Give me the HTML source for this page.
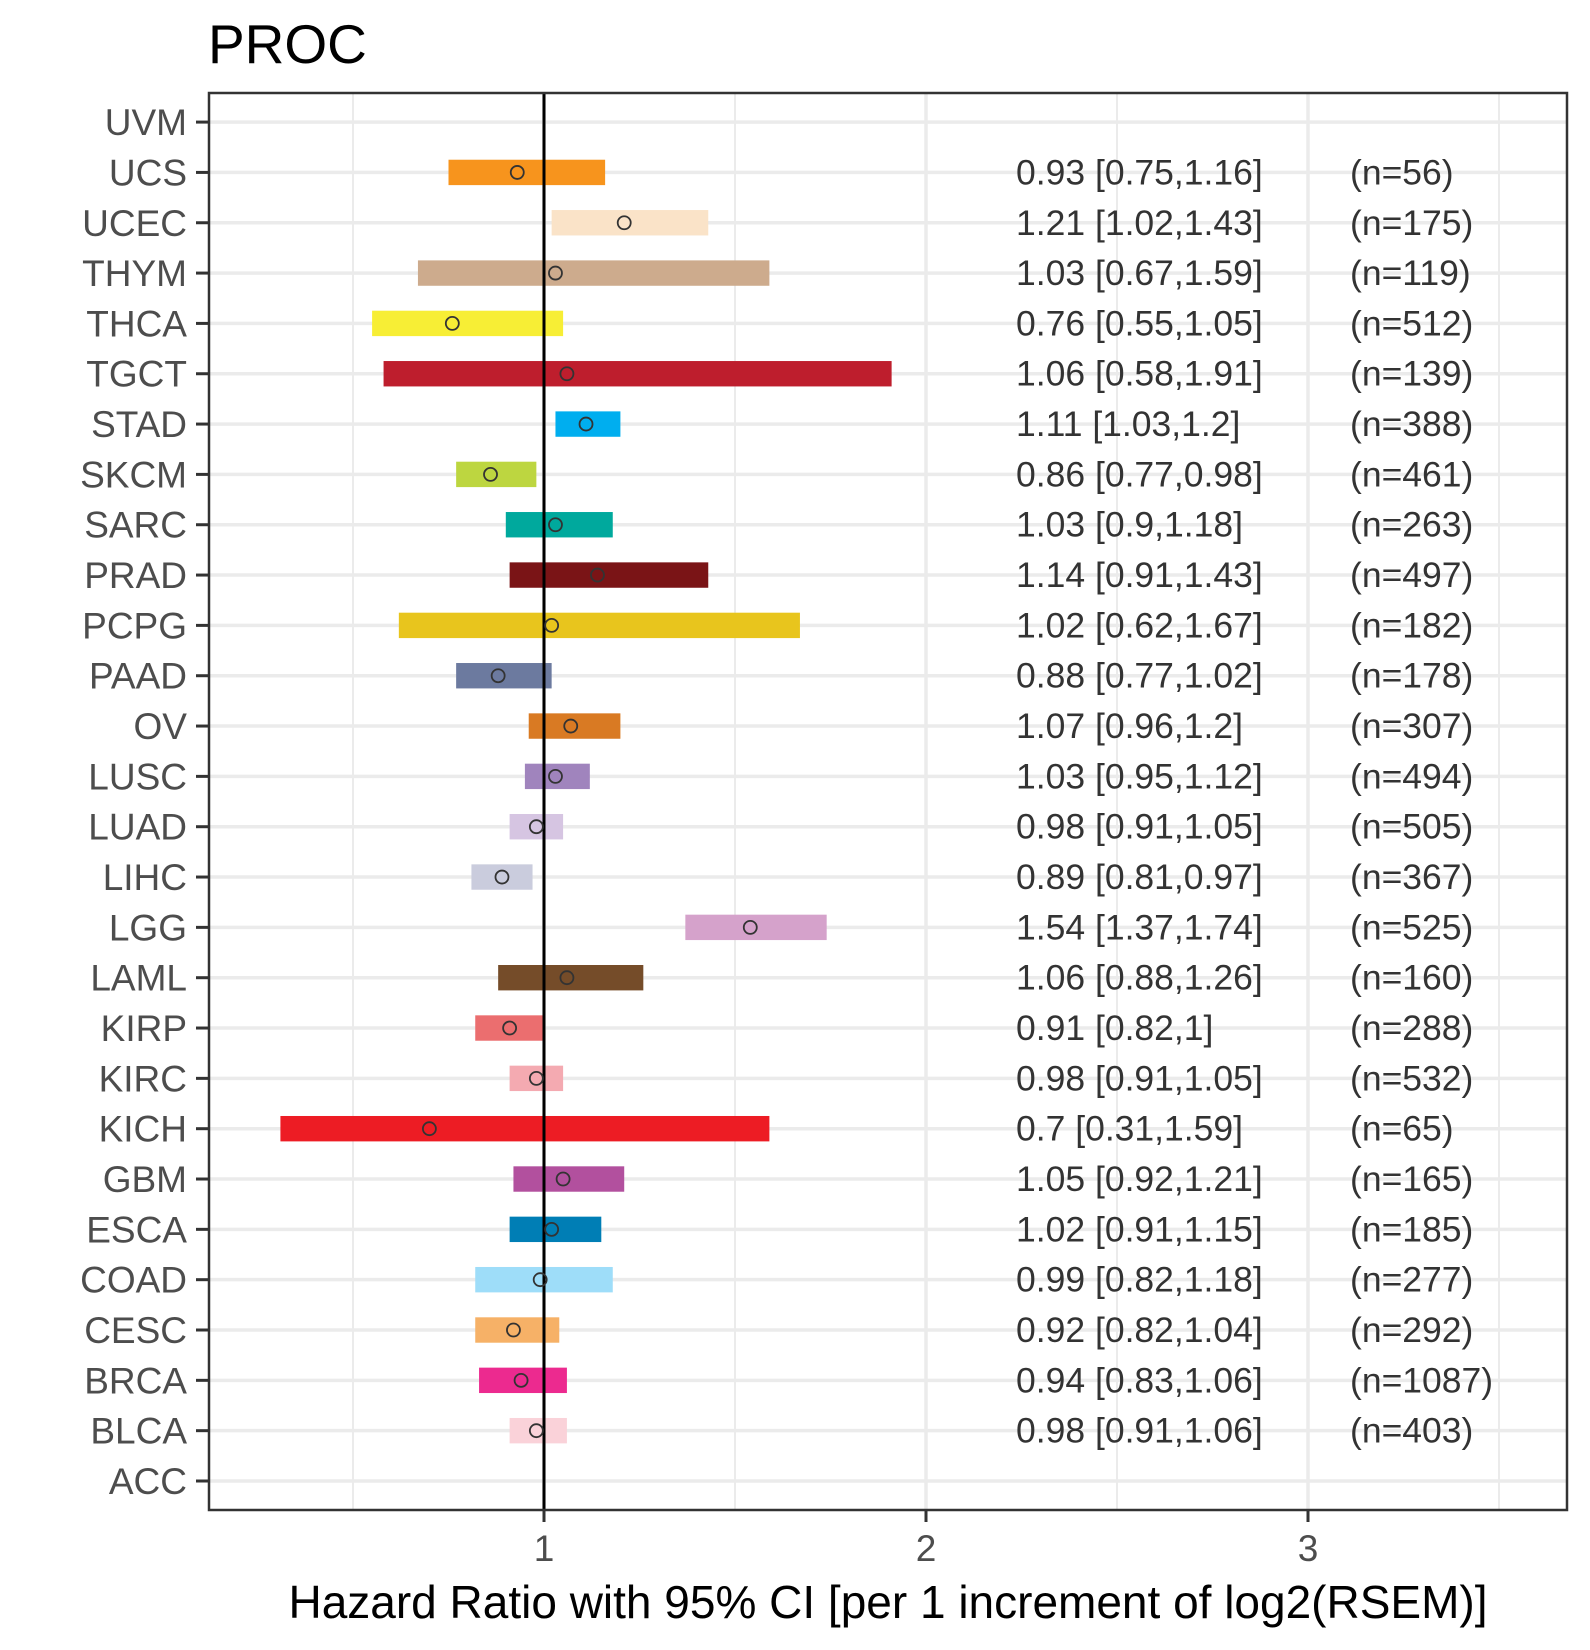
<!DOCTYPE html>
<html><head><meta charset="utf-8"><style>
html,body{margin:0;padding:0;background:#fff;}
svg{display:block;font-family:"Liberation Sans",Arial,sans-serif;}
</style></head><body>
<svg id="chart" width="1590" height="1650" viewBox="0 0 1590 1650">
<text x="208" y="63" font-size="55" fill="#000">PROC</text>
<g id="grid"></g><g id="marks"></g><g id="labels"></g>
<rect x="209" y="93" width="1358" height="1417" fill="none" stroke="#333" stroke-width="2.5"/>
<text x="888" y="1618" font-size="46" text-anchor="middle" fill="#000">Hazard Ratio with 95% CI [per 1 increment of log2(RSEM)]</text>
</svg>
<script>
const categories=["ACC","BLCA","BRCA","CESC","COAD","ESCA","GBM","KICH","KIRC","KIRP","LAML","LGG","LIHC","LUAD","LUSC","OV","PAAD","PCPG","PRAD","SARC","SKCM","STAD","TGCT","THCA","THYM","UCEC","UCS","UVM"];
const hr=[null,0.98,0.94,0.92,0.99,1.02,1.05,0.7,0.98,0.91,1.06,1.54,0.89,0.98,1.03,1.07,0.88,1.02,1.14,1.03,0.86,1.11,1.06,0.76,1.03,1.21,0.93,null];
const lo=[null,0.91,0.83,0.82,0.82,0.91,0.92,0.31,0.91,0.82,0.88,1.37,0.81,0.91,0.95,0.96,0.77,0.62,0.91,0.9,0.77,1.03,0.58,0.55,0.67,1.02,0.75,null];
const hi=[null,1.06,1.06,1.04,1.18,1.15,1.21,1.59,1.05,1,1.26,1.74,0.97,1.05,1.12,1.2,1.02,1.67,1.43,1.18,0.98,1.2,1.91,1.05,1.59,1.43,1.16,null];
const nLabels=[null,403,1087,292,277,185,165,65,532,288,160,525,367,505,494,307,178,182,497,263,461,388,139,512,119,175,56,null];
const ciLabels=[null,"0.98 [0.91,1.06]","0.94 [0.83,1.06]","0.92 [0.82,1.04]","0.99 [0.82,1.18]","1.02 [0.91,1.15]","1.05 [0.92,1.21]","0.7 [0.31,1.59]","0.98 [0.91,1.05]","0.91 [0.82,1]","1.06 [0.88,1.26]","1.54 [1.37,1.74]","0.89 [0.81,0.97]","0.98 [0.91,1.05]","1.03 [0.95,1.12]","1.07 [0.96,1.2]","0.88 [0.77,1.02]","1.02 [0.62,1.67]","1.14 [0.91,1.43]","1.03 [0.9,1.18]","0.86 [0.77,0.98]","1.11 [1.03,1.2]","1.06 [0.58,1.91]","0.76 [0.55,1.05]","1.03 [0.67,1.59]","1.21 [1.02,1.43]","0.93 [0.75,1.16]",null];
const colors=[null,"#FAD2D9","#EC2A8F","#F6B167","#9EDDF9","#007EB5","#B2509E","#ED1C24","#F4AAB1","#EB6E6F","#754C29","#D5A2CB","#CACCDD","#D6C5E2","#A084BD","#D97A23","#6C7A9F","#E8C51D","#7A1416","#00A99D","#BDD640","#00AEEF","#BE1E2D","#F7EE35","#CDAB8D","#FAE3C8","#F7941D",null];
const xTicks=[1,2,3];
const xMinor=[0.5,1.5,2.5,3.5];
const NS="http://www.w3.org/2000/svg";
const X=v=>544+(v-1)*382;
const Y=i=>1481-i*50.33;
function mk(tag,attrs,parent,txt){const e=document.createElementNS(NS,tag);for(const k in attrs)e.setAttribute(k,attrs[k]);if(txt!==undefined)e.textContent=txt;parent.appendChild(e);return e;}
const grid=document.getElementById('grid'),marks=document.getElementById('marks'),labels=document.getElementById('labels');
xMinor.forEach(v=>{const l=mk('line',{x1:X(v),x2:X(v),y1:93,y2:1510,stroke:'#ebebeb','stroke-width':2},grid);

});
xTicks.forEach(v=>{const l=mk('line',{x1:X(v),x2:X(v),y1:93,y2:1510,stroke:'#ebebeb','stroke-width':3.5},grid);


const t=mk('line',{x1:X(v),x2:X(v),y1:1510,y2:1522,stroke:'#333','stroke-width':3},labels);


const tx=mk('text',{x:X(v),y:1561,'font-size':37,'text-anchor':'middle',fill:'#4d4d4d'},labels,String(v));

});
categories.forEach((c,i)=>{const y=Y(i);
const g=mk('line',{x1:209,x2:1567,y1:y,y2:y,stroke:'#ebebeb','stroke-width':3.5},grid);


const t=mk('line',{x1:196,x2:209,y1:y,y2:y,stroke:'#333','stroke-width':3},labels);


const tl=mk('text',{x:187,y:y+13,'font-size':37,'text-anchor':'end',fill:'#4d4d4d'},labels,c);


if(hr[i]===null)return;
const r=mk('rect',{x:X(lo[i]),y:y-12.7,width:X(hi[i])-X(lo[i]),height:25.4,fill:colors[i]},marks);


const ci=mk('text',{x:1016,y:y+12,'font-size':35.5,fill:'#333'},marks,ciLabels[i]);


const n=mk('text',{x:1350,y:y+12,'font-size':35.5,fill:'#333'},marks,'(n='+nLabels[i]+')');

});
const ref=mk('line',{x1:X(1),x2:X(1),y1:93,y2:1510,stroke:'#000','stroke-width':3},marks);


categories.forEach((c,i)=>{if(hr[i]===null)return;
const p=mk('circle',{cx:X(hr[i]),cy:Y(i),r:6.5,fill:'none',stroke:'#333','stroke-width':1.8},marks);

});
</script>
</body></html>
